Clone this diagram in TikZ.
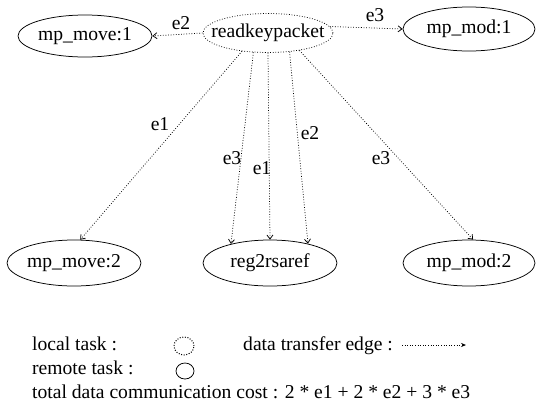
\documentclass[tikz,border=0pt]{standalone}
\usepackage{fontspec}
\setmainfont{Liberation Serif}
\usetikzlibrary{shapes.geometric,arrows.meta}
\newcommand{\zclab}[1]{\makebox[0pt]{#1}}
\begin{document}
\begin{tikzpicture}[x=1pt,y=-1pt,
  every node/.style={font=\rmfamily\fontsize{19.6}{24}\selectfont},
  dotline/.style={dash pattern=on 0.8pt off 1.8pt},
  task/.style={ellipse, draw, line width=0.75pt, inner sep=0pt},
  localtask/.style={task, dotline},
  xfer/.style={dotline, line width=0.75pt, -{Straight Barb[length=4pt,width=6pt]}},
  elab/.style={inner sep=0pt},
  legtext/.style={anchor=base west, inner sep=0pt}]
\useasboundingbox (0,0) rectangle (536,407);
% tasks
\node[localtask, minimum width=130pt, minimum height=39pt] (rk) at (268,33) {\zclab{readkeypacket}};
\node[task, minimum width=134pt, minimum height=42pt] (mv1) at (85,36) {\zclab{mp\_move:1}};
\node[task, minimum width=132pt, minimum height=44pt] (md1) at (469,29) {\zclab{mp\_mod:1}};
\node[task, minimum width=134pt, minimum height=46pt] (mv2) at (74,263) {\zclab{mp\_move:2}};
\node[task, minimum width=134pt, minimum height=46pt] (reg) at (270,263) {\zclab{reg2rsaref}};
\node[task, minimum width=132pt, minimum height=46pt] (md2) at (469,263) {\zclab{mp\_mod:2}};
% edges
\draw[xfer] (rk.west) -- (mv1.east);
\draw[xfer] (rk.6) -- (md1.west);
\draw[xfer] (rk.215) -- (mv2.75);
\draw[xfer] (rk.233) -- (reg.154);
\draw[xfer] (rk.270) -- (reg.90);
\draw[xfer] (rk.319) -- (reg.27);
\draw[xfer] (rk.331) -- (md2.80);
% edge labels
\node[elab] (l1) at (181,23) {e2};
\node[elab] (l2) at (375,15) {e3};
\node[elab] (l3) at (160,124) {e1};
\node[elab] (l4) at (232,158) {e3};
\node[elab] (l5) at (262,168) {e1};
\node[elab] (l6) at (310,133) {e2};
\node[elab] (l7) at (381,158) {e3};
% legend
\node[legtext] (t1) at (32,350) {local task :};
\node[localtask, line width=1pt, dash pattern=on 1pt off 1.6pt, minimum width=20pt, minimum height=18pt] (k1) at (184,346) {};
\node[legtext] (t2) at (243,350) {data transfer edge :};
\coordinate (a1) at (402,345);
\coordinate (a2) at (466,345);
\draw[dotline, line width=0.75pt, -{Stealth[length=5pt,width=4pt]}] (a1) -- (a2);
\node[legtext] (t3) at (32,374) {remote task :};
\node[task, minimum width=18pt, minimum height=16pt] (k2) at (185,371) {};
\node[legtext] (t4) at (32,398) {total data communication cost : 2 * e1 + 2 * e2 + 3 * e3};
\end{tikzpicture}
\end{document}
